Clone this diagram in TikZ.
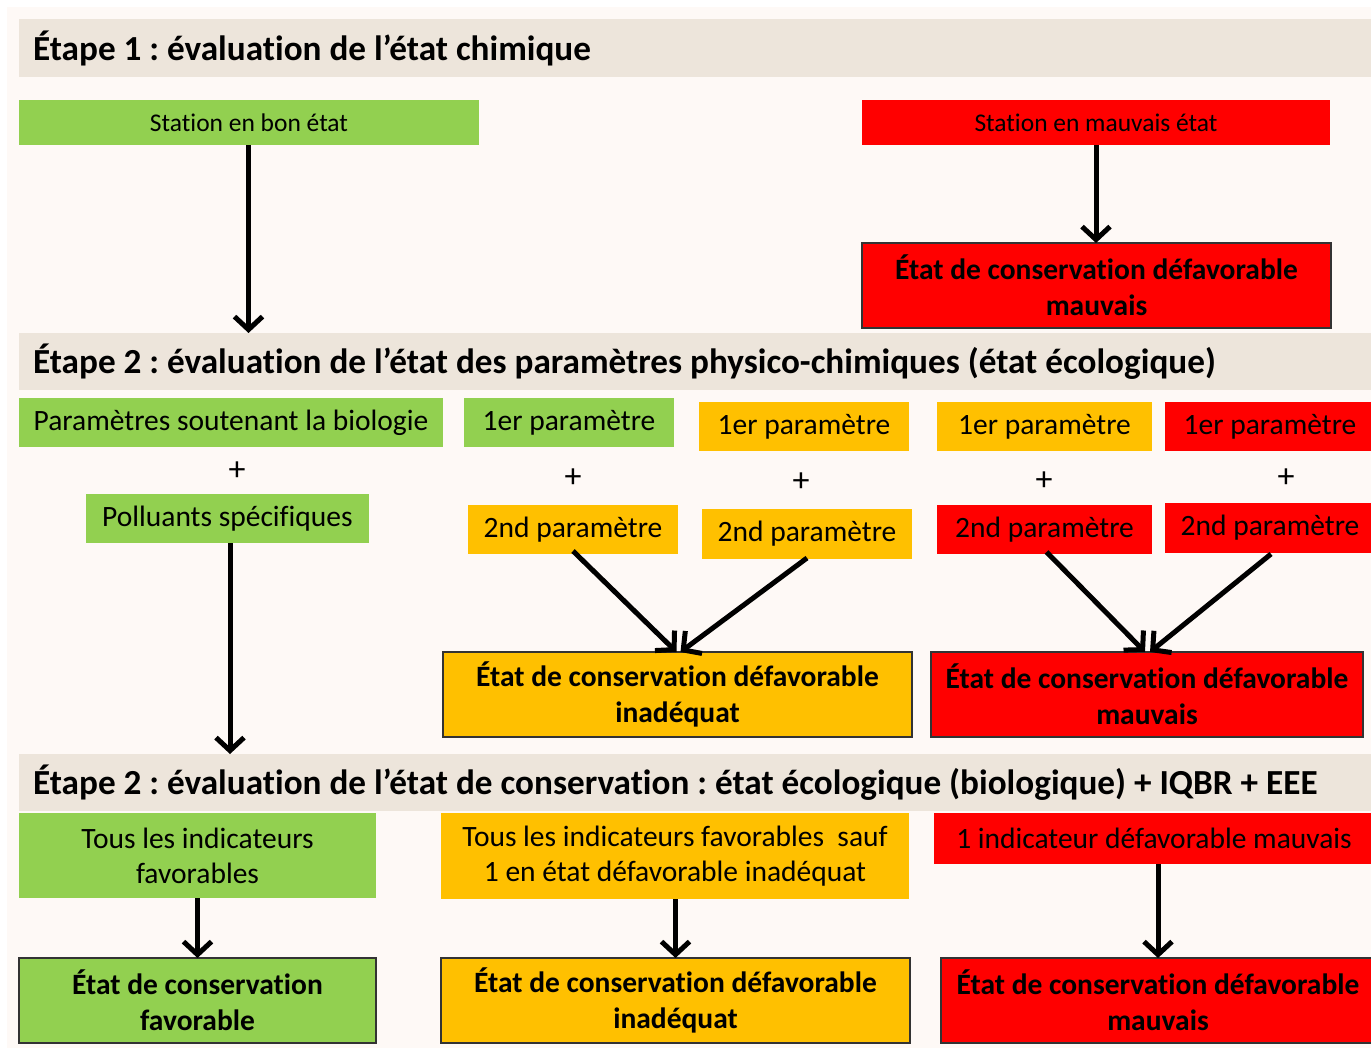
\documentclass[tikz,border=0pt]{standalone}
\usepackage{fontspec}
\setmainfont{Carlito}[Ligatures=NoCommon]
\frenchspacing
\usetikzlibrary{arrows.meta}
\definecolor{pagebg}{HTML}{FEF9F6}
\definecolor{hdrbg}{HTML}{EDE5DB}
\definecolor{vert}{HTML}{92D050}
\definecolor{orange}{HTML}{FFC000}
\definecolor{rouge}{HTML}{FF0000}
\definecolor{bord}{HTML}{333333}
\tikzset{
  box/.style={rectangle, inner sep=0pt, outer sep=0pt, anchor=north west, align=center, font=\fontsize{29.5}{35}\selectfont},
  smallbox/.style={box, font=\fontsize{25.5}{30}\selectfont},
  res/.style={box, draw=bord, line width=1.6pt, font=\bfseries\fontsize{29.5}{36}\selectfont},
  hdr/.style={rectangle, fill=hdrbg, inner sep=0pt, anchor=north west},
  hdrtext/.style={anchor=west, inner sep=0pt, font=\bfseries\fontsize{35.2}{40}\selectfont},
  plus/.style={inner sep=0pt, font=\fontsize{34}{34}\selectfont},
  arr/.style={-{Straight Barb[length=13pt,width=28pt,line width=5pt]}, line width=5pt}
}
\begin{document}
\begin{tikzpicture}[x=1pt,y=-1pt]
\useasboundingbox (0,0) rectangle (1371,1048);
\fill[white] (0,0) rectangle (1371,1048);
\fill[pagebg] (7,7) rectangle (1371,1048);

% headers
\node[hdr, minimum width=1352pt, minimum height=58pt] (h1) at (19,19) {};
\node[hdrtext] (t1) at (33,48.5) {Étape 1 : évaluation de l’état chimique};
\node[hdr, minimum width=1352pt, minimum height=57pt] (h2) at (19,333) {};
\node[hdrtext] (t2) at (33,362) {Étape 2 : évaluation de l’état des paramètres physico-chimiques (état écologique)};
\node[hdr, minimum width=1352pt, minimum height=57pt] (h3) at (19,754) {};
\node[hdrtext] (t3) at (33,783) {Étape 2 : évaluation de l’état de conservation : état écologique (biologique) + IQBR + EEE};

% stage 1
\node[smallbox, fill=vert, minimum width=460pt, minimum height=45pt] (bon) at (19,100) {Station en bon état};
\node[smallbox, fill=rouge, minimum width=468pt, minimum height=45pt] (mauv) at (862,100) {Station en mauvais état};
\node[res, fill=rouge, minimum width=469pt, minimum height=85pt] (r1) at (862,243) {État de conservation défavorable\\mauvais};

% stage 2
\node[box, fill=vert, minimum width=424pt, minimum height=49pt] (psb) at (19,398) {Paramètres soutenant la biologie};
\node[plus] (pa) at (237,471) {+};
\node[box, fill=vert, minimum width=283pt, minimum height=49pt] (pol) at (86,494) {Polluants spécifiques};

\node[box, fill=vert, minimum width=210pt, minimum height=49pt] (g1) at (464,398) {1er paramètre};
\node[plus] (pb) at (573,478) {+};
\node[box, fill=orange, minimum width=210pt, minimum height=49pt] (o2a) at (468,505) {2nd paramètre};

\node[box, fill=orange, minimum width=210pt, minimum height=49pt] (o1b) at (699,402) {1er paramètre};
\node[plus] (pc) at (801,482) {+};
\node[box, fill=orange, minimum width=210pt, minimum height=50pt] (o2b) at (702,509) {2nd paramètre};

\node[box, fill=orange, minimum width=215pt, minimum height=49pt] (o1c) at (937,402) {1er paramètre};
\node[plus] (pd) at (1044,481) {+};
\node[box, fill=rouge, minimum width=215pt, minimum height=49pt] (r2c) at (937,505) {2nd paramètre};

\node[box, fill=rouge, minimum width=210pt, minimum height=49pt] (r1d) at (1165,402) {1er paramètre};
\node[plus] (pe) at (1286,478) {+};
\node[box, fill=rouge, minimum width=210pt, minimum height=50pt] (r2d) at (1165,503) {2nd paramètre};

\node[res, fill=orange, minimum width=469pt, minimum height=85pt] (ina) at (443,652) {État de conservation défavorable\\inadéquat};
\node[res, fill=rouge, minimum width=432pt, minimum height=85pt] (mv2) at (931,652) {État de conservation défavorable\\mauvais};

% stage 3
\node[box, fill=vert, minimum width=357pt, minimum height=85pt] (tf) at (19,813) {Tous les indicateurs\\favorables};
\node[box, fill=orange, minimum width=468pt, minimum height=86pt] (ts) at (441,813) {Tous les indicateurs favorables~~sauf\\1 en état défavorable inadéquat};
\node[box, fill=rouge, minimum width=440pt, minimum height=51pt] (im) at (934,813) {1 indicateur défavorable mauvais};

\node[res, fill=vert, minimum width=357pt, minimum height=85pt] (fav) at (19,958) {État de conservation\\favorable};
\node[res, fill=orange, minimum width=469pt, minimum height=85pt] (ina3) at (441,958) {État de conservation défavorable\\inadéquat};
\node[res, fill=rouge, minimum width=434pt, minimum height=85pt] (mv3) at (941,958) {État de conservation défavorable\\mauvais};

% arrows
\draw[arr] ([xshift=-0.5pt]bon.south) -- ([xshift=-0.5pt]bon.south |- h2.north);
\draw[arr] (mauv.south) -- (mauv.south |- r1.north);
\draw[arr] ([xshift=2.5pt]pol.south) -- ([xshift=2.5pt]pol.south |- h3.north);
\draw[arr] ([yshift=3pt]o2a.south) -- ([xshift=-1pt]ina.north);
\draw[arr] ([yshift=1pt]o2b.south) -- ([xshift=3pt]ina.north);
\draw[arr] ([xshift=2pt,yshift=2pt]r2c.south) -- ([xshift=-2pt]mv2.north);
\draw[arr] ([xshift=1pt,yshift=-1pt]r2d.south) -- ([xshift=3pt]mv2.north);
\draw[arr] (tf.south -| fav.north) -- (fav.north);
\draw[arr] (ts.south -| ina3.north) -- (ina3.north);
\draw[arr] ([xshift=4pt]im.south) -- ([xshift=4pt]im.south |- mv3.north);
\end{tikzpicture}
\end{document}
